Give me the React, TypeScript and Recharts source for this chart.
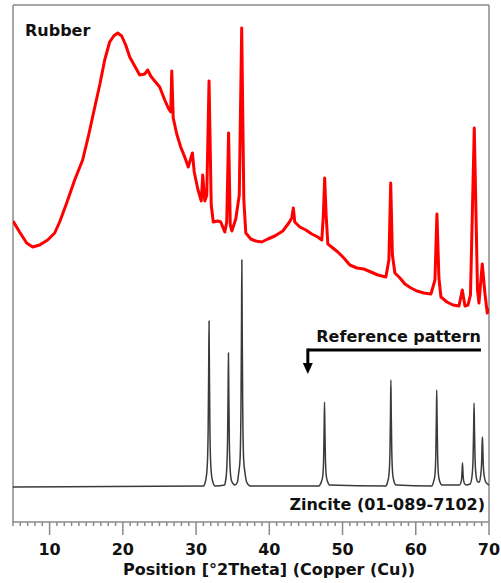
import React from "react";
import { LineChart, Line, XAxis, YAxis, ReferenceLine, ReferenceDot } from "recharts";

// Rubber sample scan (2theta, counts)
const rubberTheta = [
  5.0, 5.9, 6.86, 7.68, 8.64, 9.73, 10.69, 11.37, 12.33, 13.42, 14.51, 15.33, 16.02, 16.84, 17.52,
  18.2, 18.75, 19.3, 19.84, 20.39, 20.94, 21.62, 22.3, 22.99, 23.4, 23.8, 24.35, 25.03, 25.72, 26.27,
  26.54, 26.68, 26.88, 27.36, 27.9, 28.45, 28.93, 29.5, 29.75, 30.23, 30.71, 30.91, 31.19, 31.46, 31.77,
  32.07, 32.35, 32.96, 33.37, 33.92, 34.19, 34.44, 34.67, 34.88, 35.42, 35.9, 36.23, 36.52, 36.79, 37.47,
  38.15, 38.97, 39.8, 40.75, 41.84, 42.66, 43.07, 43.28, 43.48, 44.17, 44.99, 45.8, 46.62, 47.17, 47.38,
  47.56, 47.76, 47.99, 48.68, 49.36, 50.18, 51.0, 51.96, 52.91, 53.87, 54.83, 55.92, 56.33, 56.58, 56.81,
  57.15, 57.84, 58.52, 59.34, 60.16, 61.12, 62.07, 62.62, 62.89, 63.16, 63.44, 64.26, 65.08, 65.9, 66.35,
  66.72, 67.13, 67.47, 67.99, 68.43, 68.63, 69.08, 69.44, 69.76, 70.0,
];
const rubberCounts = [
  301, 290, 279, 275, 277, 282, 289, 300, 319, 342, 362, 387, 410, 437, 462,
  480, 486, 489, 486, 477, 465, 456, 447, 448, 452, 446, 441, 435, 422, 413,
  410, 451, 404, 388, 375, 365, 355, 369, 350, 333, 321, 347, 321, 327, 441,
  317, 300, 301, 300, 290, 300, 389, 297, 291, 303, 327, 494, 322, 289, 283,
  281, 280, 283, 286, 291, 299, 304, 314, 300, 295, 292, 288, 285, 282, 307,
  344, 307, 278, 274, 270, 264, 257, 254, 253, 250, 247, 245, 262, 339, 267,
  249, 244, 238, 234, 231, 229, 228, 242, 308, 244, 225, 220, 217, 216, 232,
  216, 217, 227, 394, 232, 219, 258, 229, 209, 214,
];

// Zincite reference pattern 01-089-7102
const zinciteTheta = [
  5.0, 31.0, 31.32, 31.52, 31.65, 31.72, 31.77, 31.82, 31.89, 32.02, 32.22, 32.6,
  33.9, 34.0, 34.17, 34.3, 34.37, 34.42, 34.47, 34.54, 34.67, 34.85, 35.3,
  35.65, 35.8, 36.0, 36.13, 36.2, 36.25, 36.3, 36.37, 36.5, 36.7, 36.9, 37.4,
  46.8, 46.9, 47.1, 47.3, 47.42, 47.49, 47.54, 47.59, 47.66, 47.78, 47.98, 48.2,
  55.9, 56.15, 56.35, 56.48, 56.55, 56.6, 56.65, 56.72, 56.85, 57.05, 57.3,
  62.2, 62.42, 62.62, 62.74, 62.81, 62.86, 62.91, 62.98, 63.1, 63.3, 63.55,
  65.95, 66.15, 66.27, 66.33, 66.38, 66.43, 66.49, 66.62, 66.85, 67.4,
  67.65, 67.82, 67.9, 67.96, 68.02, 68.1, 68.28, 68.5,
  68.7, 68.85, 68.98, 69.05, 69.1, 69.15, 69.22, 69.35, 69.55, 69.8, 70.0,
];
const zinciteCounts = [
  35, 36, 42, 55, 93, 151, 201, 151, 93, 55, 42, 36,
  37, 40, 51, 82, 129, 169, 129, 82, 51, 41, 37,
  40, 48, 62, 114, 194, 262, 194, 114, 62, 48, 40, 36,
  36, 37, 40, 46, 64, 95, 120, 95, 64, 46, 40, 37,
  36, 40, 48, 72, 110, 142, 110, 72, 48, 40, 37,
  36, 40, 47, 69, 103, 132, 103, 69, 47, 40, 37,
  37, 39, 44, 52, 59, 52, 44, 39, 37, 38,
  44, 62, 92, 119, 92, 62, 44, 40,
  40, 46, 57, 75, 85, 75, 57, 46, 40, 38, 37,
];

const majorTicks = [10, 20, 30, 40, 50, 60, 70];
const minorTicks = Array.from({ length: 66 }, (_, i) => 5 + i);

const rubberData = rubberTheta.map((x, i) => ({ x, y: rubberCounts[i] }));
const zinciteData = zinciteTheta.map((x, i) => ({ x, y: zinciteCounts[i] }));

const FONT = "'DejaVu Sans', Verdana, sans-serif";
const FRAME = "#8a8a8a";

const AxisTick = ({ x, y, payload }: any) => {
  const major = majorTicks.includes(payload.value);
  return (
    <g>
      <line x1={x} x2={x} y1={y} y2={y + (major ? 13 : 4)} stroke={FRAME} strokeWidth={1.5} />
      {major && (
        <text x={x} y={y + 33} textAnchor="middle" fontFamily={FONT} fontWeight="bold" fontSize={16} fill="#111">
          {payload.value}
        </text>
      )}
    </g>
  );
};

const ArrowHead = ({ cx, cy }: any) => (
  <path d={`M${cx - 5},${cy - 11} L${cx + 5},${cy - 11} L${cx},${cy} Z`} fill="#000" />
);

export default function App() {
  return (
    <div style={{ position: "absolute", left: 0, top: 0, width: 501, height: 583, background: "#fff" }}>
      <LineChart width={501} height={583} margin={{ top: 5, right: 12, bottom: 0, left: 13 }}>
        <XAxis
          type="number"
          dataKey="x"
          domain={[5, 70]}
          ticks={minorTicks}
          interval={0}
          tickSize={0}
          tickMargin={0}
          tickLine={false}
          tick={<AxisTick />}
          axisLine={{ stroke: FRAME, strokeWidth: 1.5 }}
          height={61}
          allowDataOverflow
          label={({ viewBox }: any) => (
            <text
              x={viewBox.x + viewBox.width / 2 + 18}
              y={viewBox.y + 53}
              textAnchor="middle"
              fontFamily={FONT}
              fontWeight="bold"
              fontSize={16}
              fill="#111"
            >
              Position [°2Theta] (Copper (Cu))
            </text>
          )}
        />
        <YAxis hide type="number" domain={[0, 517]} allowDataOverflow />

        {/* frame */}
        <ReferenceLine y={517} stroke={FRAME} strokeWidth={1.5} />
        <ReferenceLine x={5} stroke={FRAME} strokeWidth={1.5} />
        <ReferenceLine x={70} stroke={FRAME} strokeWidth={1.5} />

        <Line
          data={zinciteData}
          dataKey="y"
          type="monotone"
          stroke="#3a3a3a"
          strokeWidth={1.5}
          dot={false}
          isAnimationActive={false}
        />
        <Line
          data={rubberData}
          dataKey="y"
          type="linear"
          stroke="#ff0000"
          strokeWidth={3}
          strokeLinejoin="round"
          dot={false}
          isAnimationActive={false}
        />

        {/* reference pattern arrow */}
        <ReferenceLine segment={[{ x: 45.26, y: 172 }, { x: 68.9, y: 172 }]} stroke="#000" strokeWidth={3} />
        <ReferenceLine segment={[{ x: 45.26, y: 173.5 }, { x: 45.26, y: 158 }]} stroke="#000" strokeWidth={3} />
        <ReferenceDot x={45.26} y={148} r={0} shape={<ArrowHead />} />

        <text x={25} y={36} fontFamily={FONT} fontWeight="bold" fontSize={16} fill="#111">
          Rubber
        </text>
        <text x={481} y={342} textAnchor="end" fontFamily={FONT} fontWeight="bold" fontSize={16} fill="#111">
          Reference pattern
        </text>
        <text x={485} y={510} textAnchor="end" fontFamily={FONT} fontWeight="bold" fontSize={16} fill="#111">
          Zincite (01-089-7102)
        </text>
      </LineChart>
    </div>
  );
}
